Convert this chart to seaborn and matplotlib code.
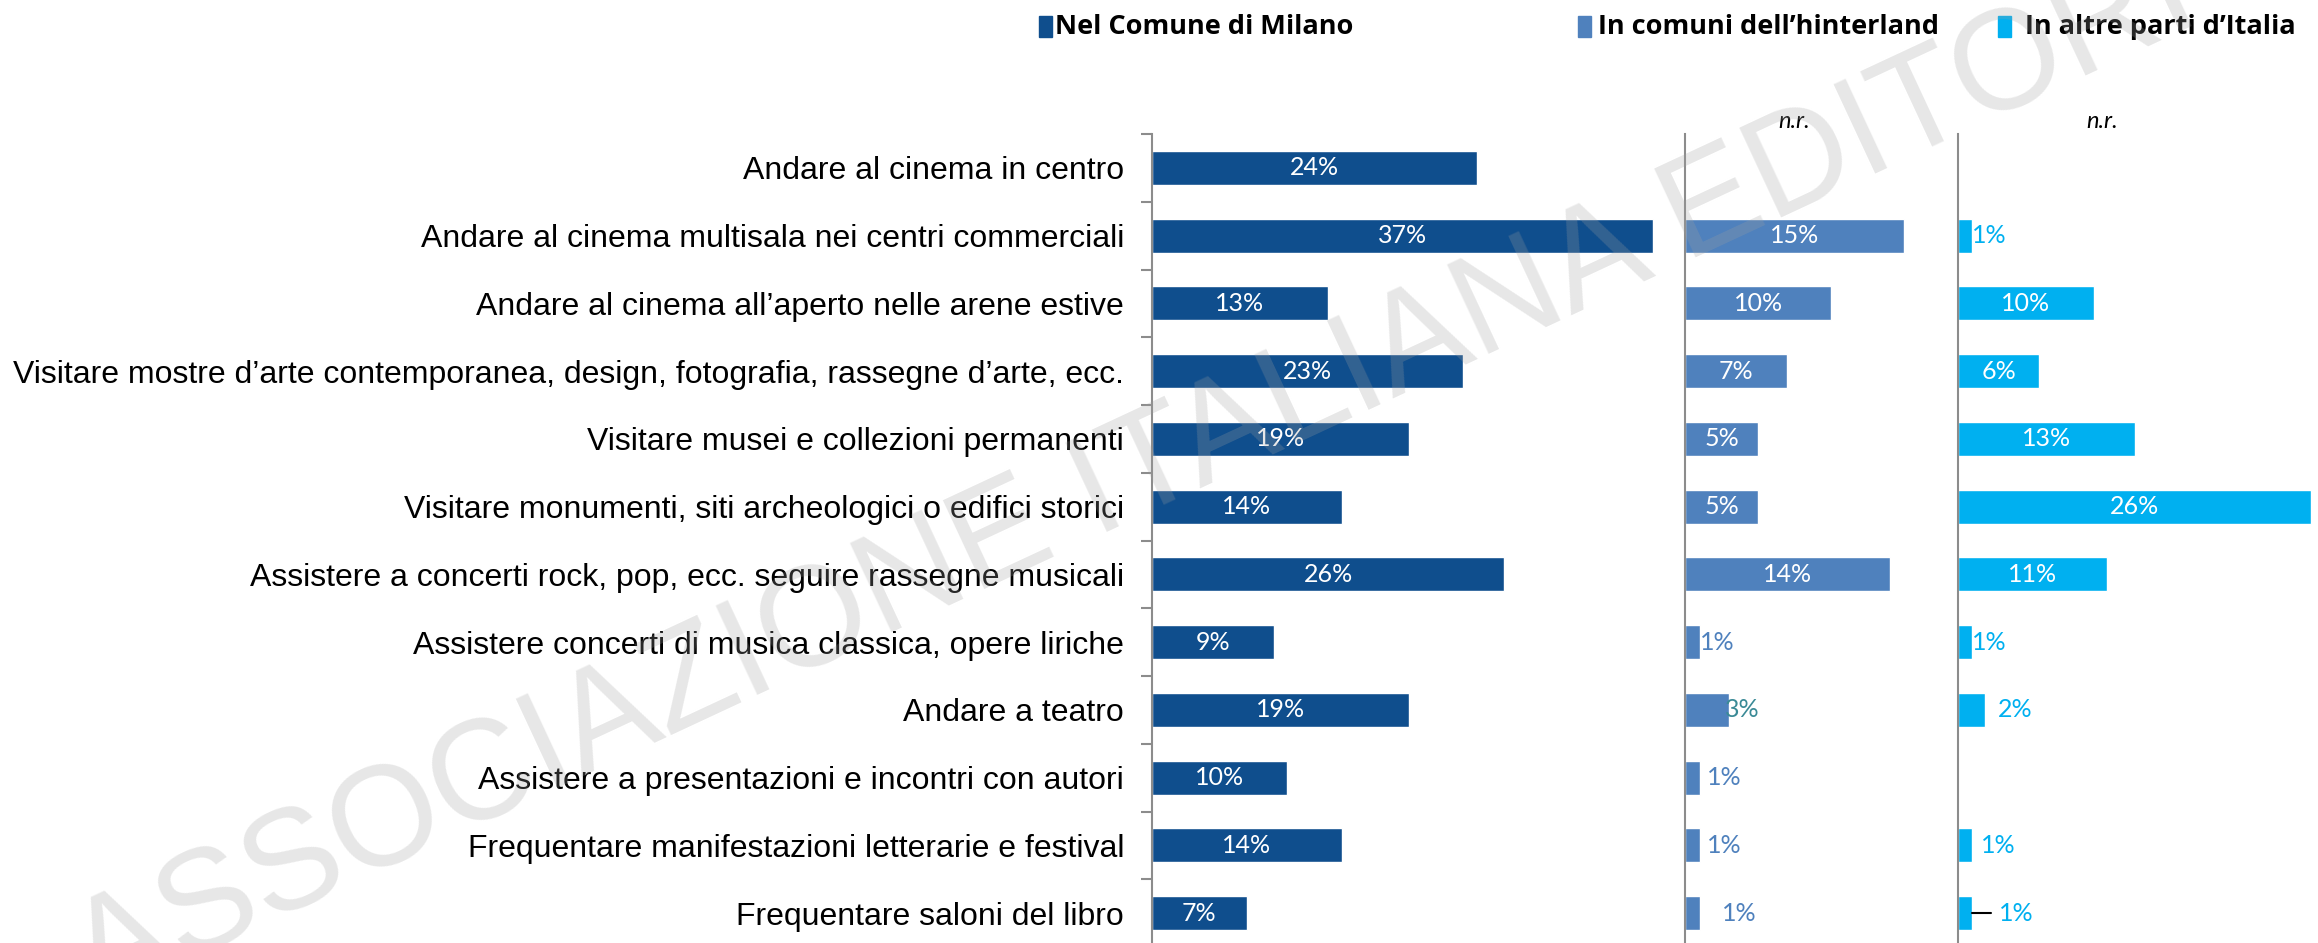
import numpy as np
import pandas as pd
import matplotlib.pyplot as plt
import seaborn as sns

# Dati
categories = [
    "Andare al cinema in centro",
    "Andare al cinema multisala nei centri commerciali",
    "Andare al cinema all\u2019aperto nelle arene estive",
    "Visitare mostre d\u2019arte contemporanea, design, fotografia, rassegne d\u2019arte, ecc.",
    "Visitare musei e collezioni permanenti",
    "Visitare monumenti, siti archeologici o edifici storici",
    "Assistere a concerti rock, pop, ecc. seguire rassegne musicali",
    "Assistere concerti di musica classica, opere liriche",
    "Andare a teatro",
    "Assistere a presentazioni e incontri con autori",
    "Frequentare manifestazioni letterarie e festival",
    "Frequentare saloni del libro",
]
milano = [24, 37, 13, 23, 19, 14, 26, 9, 19, 10, 14, 7]
hinterland = [np.nan, 15, 10, 7, 5, 5, 14, 1, 3, 1, 1, 1]
altre = [np.nan, 1, 10, 6, 13, 26, 11, 1, 2, np.nan, 1, 1]
series_names = ["Nel Comune di Milano", "In comuni dell\u2019hinterland", "In altre parti d\u2019Italia"]
nr_label = "n.r."

colors = ["#0F4E8D", "#4F81BD", "#00B0F0"]

# etichette esterne: indice riga -> (offset px, colore)
outside_h = {7: (0, "#4F81BD"), 8: (-4, "#3A8A96"), 9: (7, "#4F81BD"),
             10: (7, "#4F81BD"), 11: (22, "#4F81BD")}
outside_a = {1: (0, "#00B0F0"), 7: (0, "#00B0F0"), 8: (13, "#00B0F0"),
             10: (9, "#00B0F0"), 11: (27, "#00B0F0")}

W, H = 2318, 943
fig = plt.figure(figsize=(W / 100, H / 100), dpi=100)
sns.set_style("white")
plt.rcParams["font.family"] = ["Liberation Sans", "DejaVu Sans"]

top = 1 - 134 / H
bottom = -4 / H
panels = [
    (1152, 533, 533 / 13.54, milano, {}),
    (1685, 273, 273 / 14.63, hinterland, outside_h),
    (1958, 360, 360 / 13.58, altre, outside_a),
]

label_font = ["Lato", "DejaVu Sans"]
axes = []
for i, (x0, w, xmax, vals, outside) in enumerate(panels):
    ax = fig.add_axes([x0 / W, bottom, w / W, top - bottom])
    df = pd.DataFrame({"cat": categories, "val": vals})
    sns.barplot(data=df, y="cat", x="val", order=categories, color=colors[i],
                width=0.5, saturation=1, orient="h", ax=ax)
    ax.set_xlim(0, xmax)
    ax.set_ylim(11.5, -0.5)
    ax.set_xlabel("")
    ax.set_ylabel("")
    ax.set_xticks([])
    for s in ["top", "right", "bottom"]:
        ax.spines[s].set_visible(False)
    ax.spines["left"].set_color("#8C8C8C")
    ax.spines["left"].set_linewidth(1.5)
    ax.patch.set_alpha(0)

    for r, v in enumerate(vals):
        if np.isnan(v):
            continue
        txt = f"{int(v)}%"
        if r in outside:
            dx, col = outside[r]
            ax.annotate(txt, (v, r), xytext=(dx * 0.72, 0), textcoords="offset points",
                        ha="left", va="center", fontsize=18, color=col, family=label_font)
        else:
            ax.text(v / 2, r, txt, ha="center", va="center", fontsize=18,
                    color="white", family=label_font)
    if i == 0:
        ax.set_yticks(range(len(categories)))
        ax.set_yticklabels(categories, fontsize=23, color="black")
        ax.set_yticks(np.arange(-0.5, 12, 1), minor=True)
        ax.tick_params(axis="y", which="both", left=True)
        ax.tick_params(axis="y", which="major", length=0, pad=20)
        ax.tick_params(axis="y", which="minor", length=8, width=1.5, color="#8C8C8C")
    else:
        ax.set_yticks([])
        ax.text(xmax * 0.4, -0.68, nr_label, ha="center", va="center",
                fontsize=17, style="italic", family=label_font, color="black")
    axes.append(ax)

# linea guida ultima etichetta
ax3 = axes[2]
ax3.plot([altre[11], altre[11] + 19 / 13.58], [11, 11], color="black", lw=1.5)

# legenda
leg_items = [(1039, 1055), (1578, 1598), (1998, 2025)]
for (sx, tx), name, col in zip(leg_items, series_names, colors):
    fig.patches.append(plt.Rectangle((sx / W, 1 - 37 / H), 13 / W, 21 / H,
                                     transform=fig.transFigure, color=col))
    fig.text(tx / W, 1 - 27 / H, name, ha="left", va="center", fontsize=19.5,
             fontweight="bold", color="black", family=["Open Sans", "DejaVu Sans"])

# filigrana
fig.text(1135 / W, 1 - 478 / H, "ASSOCIAZIONE ITALIANA EDITORI", rotation=25,
         ha="center", va="center", fontsize=102, color="#A0A0A0", alpha=0.25, zorder=10)

fig.savefig("out.png", dpi=100)
